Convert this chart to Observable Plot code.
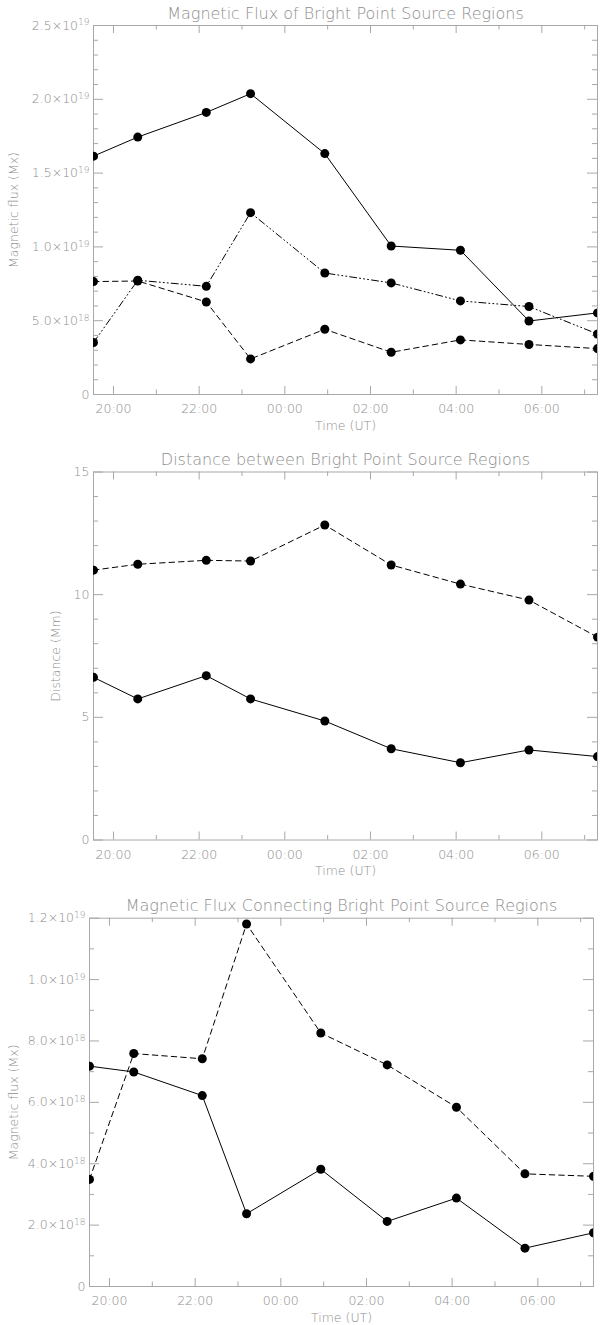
<!DOCTYPE html>
<html>
<head>
<meta charset="utf-8">
<script src="https://cdn.jsdelivr.net/npm/d3@7"></script>
<script src="https://cdn.jsdelivr.net/npm/@observablehq/plot@0.6"></script>
<style>
  body { margin: 0; background: #fff; }
  #wrap { position: relative; width: 600px; height: 1325px; background: #fff; }
  #wrap svg { position: absolute; left: 0; font-weight: 200; }
</style>
</head>
<body>
<div id="wrap"></div>
<script>
// ---- Data ----
const times = ["19:32", "20:34", "22:10", "23:12", "00:56", "02:29", "04:06", "05:42", "07:18"];

// Panel 1: Magnetic Flux of Bright Point Source Regions (Mx)
const fluxSolid   = [1.615e19, 1.744e19, 1.911e19, 2.038e19, 1.632e19, 1.006e19, 0.977e19, 0.498e19, 0.553e19];
const fluxDashDot = [0.352e19, 0.774e19, 0.733e19, 1.232e19, 0.823e19, 0.756e19, 0.634e19, 0.596e19, 0.410e19];
const fluxDashed  = [0.765e19, 0.769e19, 0.627e19, 0.241e19, 0.442e19, 0.286e19, 0.370e19, 0.339e19, 0.311e19];

// Panel 2: Distance between Bright Point Source Regions (Mm)
const distDashed = [11.00, 11.24, 11.40, 11.37, 12.84, 11.21, 10.43, 9.78, 8.27];
const distSolid  = [6.63, 5.75, 6.70, 5.75, 4.85, 3.72, 3.15, 3.67, 3.40];

// Panel 3: Magnetic Flux Connecting Bright Point Source Regions (Mx)
const connDashed = [0.349e19, 0.759e19, 0.742e19, 1.181e19, 0.826e19, 0.722e19, 0.584e19, 0.367e19, 0.359e19];
const connSolid  = [0.718e19, 0.699e19, 0.622e19, 0.237e19, 0.382e19, 0.212e19, 0.288e19, 0.125e19, 0.175e19];

// Tick values and labels
const xTickValues = [20, 22, 24, 26, 28, 30];
const xTickLabels = ["20:00", "22:00", "00:00", "02:00", "04:00", "06:00"];
const xMinorValues = [21, 23, 25, 27, 29, 31];

const y1TickValues = [0, 5e18, 1e19, 1.5e19, 2e19, 2.5e19];
const y1TickLabels = ["0", "5.0×10^18", "1.0×10^19", "1.5×10^19", "2.0×10^19", "2.5×10^19"];
const y2TickValues = [0, 5, 10, 15];
const y2TickLabels = ["0", "5", "10", "15"];
const y3TickValues = [0, 2e18, 4e18, 6e18, 8e18, 1e19, 1.2e19];
const y3TickLabels = ["0", "2.0×10^18", "4.0×10^18", "6.0×10^18", "8.0×10^18", "1.0×10^19", "1.2×10^19"];

// ---- Helpers ----
const parseT = s => { const [h, m] = s.split(":").map(Number); return (h < 12 ? h + 24 : h) + m / 60; };
const tHours = times.map(parseT);

const FRAME = "#a8a8a8";
const TEXT = "#8e8e8e";
const FONT = "'DejaVu Sans', sans-serif";
const DASH = "5.5,4";
const DASHDOT3 = "7,3,1,3,1,3,1,3";

function makePanel(cfg) {
  const {top, height, mt, mb, ml, mr, yMax, yTicks, yLabels, yMinorStep, ylabel, ylabelX, title, series} = cfg;
  const pw = 600 - ml - mr, ph = height - mt - mb;
  const yLab = new Map(yTicks.map((v, i) => [v, yLabels[i]]));
  const xLab = new Map(xTickValues.map((v, i) => [v, xTickLabels[i]]));
  const yMinor = d3.range(0, yMax * 1.0000001, yMinorStep)
    .filter(v => !yTicks.some(t => Math.abs(t - v) < yMinorStep / 10));

  const marks = [
    Plot.frame({stroke: FRAME}),
    // inward ticks on all four sides
    Plot.tickX(xTickValues, {x: d => d, insetTop: ph - 8, stroke: FRAME}),
    Plot.tickX(xTickValues, {x: d => d, insetBottom: ph - 8, stroke: FRAME}),
    Plot.tickX(xMinorValues, {x: d => d, insetTop: ph - 4.5, stroke: FRAME}),
    Plot.tickX(xMinorValues, {x: d => d, insetBottom: ph - 4.5, stroke: FRAME}),
    Plot.tickY(yTicks, {y: d => d, insetRight: pw - 10, stroke: FRAME}),
    Plot.tickY(yTicks, {y: d => d, insetLeft: pw - 10, stroke: FRAME}),
    Plot.tickY(yMinor, {y: d => d, insetRight: pw - 5, stroke: FRAME}),
    Plot.tickY(yMinor, {y: d => d, insetLeft: pw - 5, stroke: FRAME}),
    Plot.axisX(xTickValues, {tickFormat: d => xLab.get(d), tickSize: 0, tickPadding: 10, label: null, fontSize: 12.5, fill: TEXT, fontWeight: 200}),
    Plot.axisY(yTicks, {tickFormat: d => yLab.get(d), tickSize: 0, tickPadding: 4, label: null, fontSize: 12.5, fill: TEXT, fontWeight: 200}),
    Plot.text([title], {frameAnchor: "top", dy: -12, fontSize: 16, lineAnchor: "middle", fill: TEXT, fontWeight: 200}),
    Plot.text(["Time (UT)"], {frameAnchor: "bottom", dy: 31, fontSize: 12.5, lineAnchor: "middle", fill: TEXT, fontWeight: 200}),
    Plot.text([ylabel], {frameAnchor: "left", dx: ylabelX - ml, rotate: -90, fontSize: 12.5, lineAnchor: "middle", textAnchor: "middle", fill: TEXT, fontWeight: 200})
  ];
  for (const s of series) {
    const data = tHours.map((t, i) => ({t, v: s.values[i]}));
    marks.push(Plot.line(data, {x: "t", y: "v", stroke: "#000", strokeWidth: 1, strokeDasharray: s.dash, clip: true}));
    marks.push(Plot.dot(data, {x: "t", y: "v", r: 4.5, fill: "#000", stroke: "none", clip: true}));
  }

  const svg = Plot.plot({
    width: 600, height,
    marginTop: mt, marginBottom: mb, marginLeft: ml, marginRight: mr,
    x: {domain: d3.extent(tHours)},
    y: {domain: [0, yMax]},
    style: {fontFamily: FONT, fontSize: "12.5px", color: TEXT, background: "transparent"},
    marks
  });
  svg.style.top = top + "px";

  // superscript exponents in y tick labels
  const ns = "http://www.w3.org/2000/svg";
  svg.querySelectorAll('g[aria-label="y-axis tick label"] text').forEach(t => {
    const s = t.textContent, i = s.indexOf("^");
    if (i < 0) return;
    t.textContent = "";
    const a = document.createElementNS(ns, "tspan");
    a.textContent = s.slice(0, i);
    const b = document.createElementNS(ns, "tspan");
    b.textContent = s.slice(i + 1);
    b.setAttribute("dy", "-0.45em");
    b.setAttribute("font-size", "0.72em");
    t.append(a, b);
  });
  return svg;
}

const wrap = document.getElementById("wrap");
wrap.append(makePanel({
  top: 0, height: 445, mt: 25, mb: 51, ml: 93, mr: 3,
  yMax: 2.5e19, yTicks: y1TickValues, yLabels: y1TickLabels, yMinorStep: 1e18,
  ylabel: "Magnetic flux (Mx)", ylabelX: 13.5,
  title: "Magnetic Flux of Bright Point Source Regions",
  series: [
    {values: fluxSolid, dash: null},
    {values: fluxDashDot, dash: DASHDOT3},
    {values: fluxDashed, dash: DASH}
  ]
}));
wrap.append(makePanel({
  top: 445, height: 445, mt: 26.5, mb: 50.5, ml: 93, mr: 3,
  yMax: 15, yTicks: y2TickValues, yLabels: y2TickLabels, yMinorStep: 1,
  ylabel: "Distance (Mm)", ylabelX: 55,
  title: "Distance between Bright Point Source Regions",
  series: [
    {values: distDashed, dash: DASH},
    {values: distSolid, dash: null}
  ]
}));
wrap.append(makePanel({
  top: 890, height: 435, mt: 27.7, mb: 39, ml: 89, mr: 7,
  yMax: 1.2e19, yTicks: y3TickValues, yLabels: y3TickLabels, yMinorStep: 1e18,
  ylabel: "Magnetic flux (Mx)", ylabelX: 13.5,
  title: "Magnetic Flux Connecting Bright Point Source Regions",
  series: [
    {values: connDashed, dash: DASH},
    {values: connSolid, dash: null}
  ]
}));
</script>
</body>
</html>
